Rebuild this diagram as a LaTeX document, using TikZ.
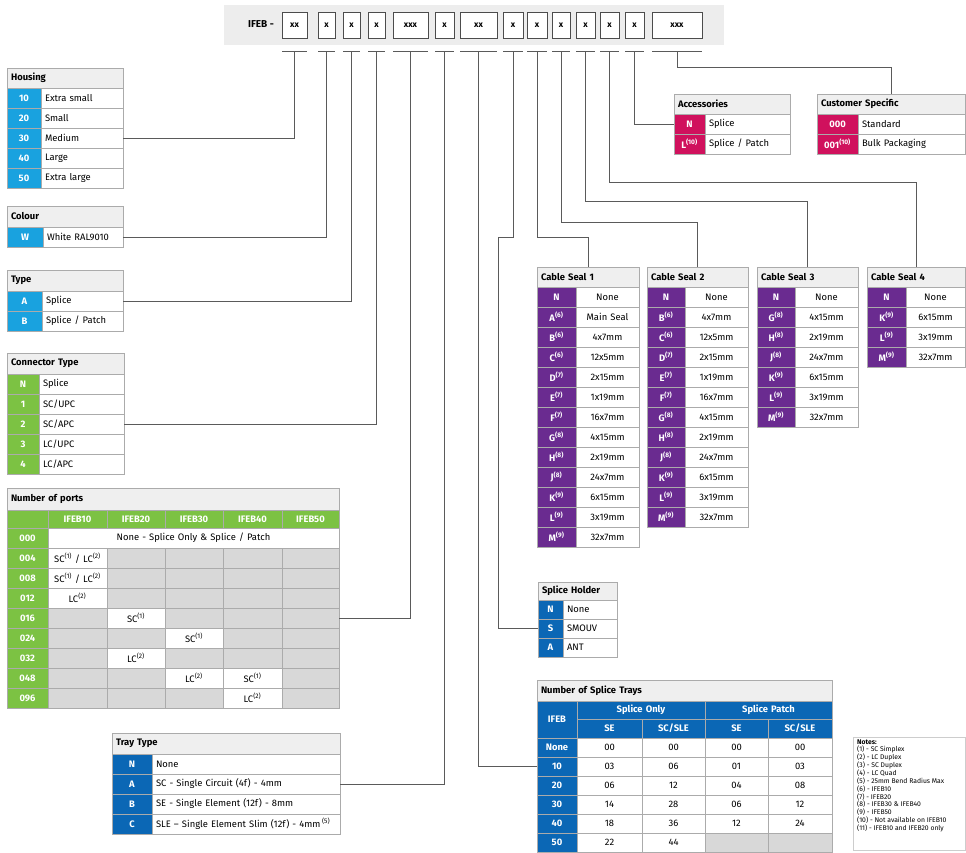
\documentclass[tikz,border=0pt]{standalone}
\usepackage{fontspec}
\setmainfont{Fira Sans}
\usetikzlibrary{calc}
\definecolor{hblue}{HTML}{19A2DF}
\definecolor{dblue}{HTML}{0B67B5}
\definecolor{pgreen}{HTML}{7CC243}
\definecolor{pmag}{HTML}{D0115D}
\definecolor{ppurple}{HTML}{6A2B90}
\definecolor{bord}{HTML}{ABABAB}
\definecolor{hdrgray}{HTML}{EFEFEF}
\definecolor{cellgray}{HTML}{D8D8D8}
\definecolor{bandgray}{HTML}{EDEDED}
\definecolor{conncol}{HTML}{5A5A5A}
\newcommand\fs{\fontsize{9.4}{10.5}\selectfont}
\newcommand\spx[1]{\textsuperscript{(#1)}}
\newcommand\cbox[7]{%
  \pgfmathsetmacro\cbw{#4-#2}%
  \pgfmathsetmacro\cbh{#5-#3}%
  \pgfmathsetmacro\cbt{max(#4-#2-8,1)}%
  \node[#6, minimum width=\cbw pt, minimum height=\cbh pt, text width=\cbt pt, anchor=north west] (#1) at (#2,#3) {\mbox{#7}};}
\tikzset{
  cb/.style={draw=bord, line width=0.6pt, inner xsep=4pt, inner ysep=0pt, outer sep=0pt, font=\fs},
  hdr/.style={cb, fill=hdrgray, font=\fs\bfseries, align=left},
  txl/.style={cb, fill=white, align=left},
  txc/.style={cb, fill=white, align=center},
  cod/.style={cb, fill=#1, text=white, font=\fs\bfseries, align=center},
  gry/.style={cb, fill=cellgray},
  conn/.style={draw=conncol, line width=0.9pt},
  hbox/.style={draw=black!70, fill=white, line width=0.7pt, inner xsep=4pt, inner ysep=0pt, outer sep=0pt, align=center, font=\fontsize{8.5}{9}\selectfont\bfseries},
}
\begin{document}
\begin{tikzpicture}[x=1pt,y=-1pt]
\useasboundingbox[fill=white] (0,0) rectangle (966,852);
% ---------- header band ----------
\fill[bandgray] (224,5) rectangle (724,45);
\node[font=\fontsize{10}{11}\selectfont\bfseries, inner sep=0pt] (ifeb) at (261,24) {IFEB -};
\foreach \xa/\xb/\l [count=\i] in {282/307/xx,318/335/x,343/360/x,368/385/x,393/428/xxx,435/454/x,460/497/xx,503/523/x,527/547/x,552/570/x,576/595/x,600/619/x,625/644/x,652/702/xxx}{
  \cbox{b\i}{\xa}{12}{\xb}{38}{hbox}{\l}
  \draw[conn] (b\i.south west |- 0,51) -- (b\i.south east |- 0,51);
  \coordinate (t\i) at (b\i.south |- 0,51);
}
% ---------- Housing ----------
\cbox{hs-h}{7}{68}{123}{88}{hdr}{Housing}
\foreach \c/\t [count=\i] in {10/Extra small,20/Small,30/Medium,40/Large,50/Extra large}{
  \pgfmathsetmacro\ya{88+20*(\i-1)}\pgfmathsetmacro\yb{\ya+20}
  \cbox{hs-c\i}{7}{\ya}{41}{\yb}{cod=hblue}{\c}
  \cbox{hs-t\i}{41}{\ya}{123}{\yb}{txl}{\t}
}
% ---------- Colour ----------
\cbox{co-h}{7}{206}{123}{227}{hdr}{Colour}
\cbox{co-c1}{7}{227}{43}{247}{cod=hblue}{W}
\cbox{co-t1}{43}{227}{123}{247}{txl}{White RAL9010}
% ---------- Type ----------
\cbox{ty-h}{7}{270}{123}{291}{hdr}{Type}
\foreach \c/\t [count=\i] in {A/Splice,B/{Splice / Patch}}{
  \pgfmathsetmacro\ya{291+20*(\i-1)}\pgfmathsetmacro\yb{\ya+20}
  \cbox{ty-c\i}{7}{\ya}{42}{\yb}{cod=hblue}{\c}
  \cbox{ty-t\i}{42}{\ya}{123}{\yb}{txl}{\t}
}
% ---------- Connector Type ----------
\cbox{ct-h}{7}{353}{124}{374}{hdr}{Connector Type}
\foreach \c/\t [count=\i] in {N/Splice,1/{SC/UPC},2/{SC/APC},3/{LC/UPC},4/{LC/APC}}{
  \pgfmathsetmacro\ya{374+20*(\i-1)}\pgfmathsetmacro\yb{\ya+20}
  \cbox{ct-c\i}{7}{\ya}{39}{\yb}{cod=pgreen}{\c}
  \cbox{ct-t\i}{39}{\ya}{124}{\yb}{txl}{\t}
}
% ---------- Number of ports ----------
\cbox{np-h}{7}{488}{339}{510}{hdr}{Number of ports}
\cbox{np-c0}{7}{510}{48}{528}{cod=pgreen}{}
\foreach \xa/\xb/\l [count=\j] in {48/107/IFEB10,107/165/IFEB20,165/223/IFEB30,223/282/IFEB40,282/339/IFEB50}{
  \cbox{np-c\j}{\xa}{510}{\xb}{528}{cod=pgreen}{\l}
}
\cbox{np-r0}{7}{528}{48}{548}{cod=pgreen}{000}
\cbox{np-all}{48}{528}{339}{548}{txc}{None - Splice Only \& Splice / Patch}
\foreach \r [count=\i] in {004,008,012,016,024,032,048,096}{
  \pgfmathsetmacro\ya{548+20*(\i-1)}\pgfmathsetmacro\yb{\ya+20}
  \cbox{np-r\i}{7}{\ya}{48}{\yb}{cod=pgreen}{\r}
  \foreach \xa/\xb [count=\j] in {48/107,107/165,165/223,223/282,282/339}{
    \cbox{np-\i-\j}{\xa}{\ya}{\xb}{\yb}{gry}{}
  }
}
\cbox{np-w1}{48}{548}{107}{568}{txc}{SC\spx{1} / LC\spx{2}}
\cbox{np-w2}{48}{568}{107}{588}{txc}{SC\spx{1} / LC\spx{2}}
\cbox{np-w3}{48}{588}{107}{608}{txc}{LC\spx{2}}
\cbox{np-w4}{107}{608}{165}{628}{txc}{SC\spx{1}}
\cbox{np-w5}{165}{628}{223}{648}{txc}{SC\spx{1}}
\cbox{np-w6}{107}{648}{165}{668}{txc}{LC\spx{2}}
\cbox{np-w7}{165}{668}{223}{688}{txc}{LC\spx{2}}
\cbox{np-w8}{223}{668}{282}{688}{txc}{SC\spx{1}}
\cbox{np-w9}{223}{688}{282}{708}{txc}{LC\spx{2}}
% ---------- Tray Type ----------
\cbox{tt-h}{112}{733}{340}{754}{hdr}{Tray Type}
\foreach \c/\t [count=\i] in {N/None,A/SC - Single Circuit (4f) - 4mm,B/SE - Single Element (12f) - 8mm,C/{SLE – Single Element Slim (12f) - 4mm\,\spx{5}}}{
  \pgfmathsetmacro\ya{754+20*(\i-1)}\pgfmathsetmacro\yb{\ya+20}
  \cbox{tt-c\i}{112}{\ya}{152}{\yb}{cod=dblue}{\c}
  \cbox{tt-t\i}{152}{\ya}{340}{\yb}{txl}{\t}
}
% ---------- Accessories ----------
\cbox{ac-h}{674}{94}{790}{114}{hdr}{Accessories}
\foreach \c/\t [count=\i] in {N/Splice,{L\spx{10}}/{Splice / Patch}}{
  \pgfmathsetmacro\ya{114+20*(\i-1)}\pgfmathsetmacro\yb{\ya+20}
  \cbox{ac-c\i}{674}{\ya}{705}{\yb}{cod=pmag}{\c}
  \cbox{ac-t\i}{705}{\ya}{790}{\yb}{txl}{\t}
}
% ---------- Customer Specific ----------
\cbox{cu-h}{817}{94}{965}{114}{hdr}{Customer Specific}
\foreach \c/\t [count=\i] in {000/Standard,{001\spx{10}}/Bulk Packaging}{
  \pgfmathsetmacro\ya{114+20*(\i-1)}\pgfmathsetmacro\yb{\ya+20}
  \cbox{cu-c\i}{817}{\ya}{858}{\yb}{cod=pmag}{\c}
  \cbox{cu-t\i}{858}{\ya}{965}{\yb}{txl}{\t}
}
% ---------- Cable Seals ----------
\cbox{cs1-h}{537}{267}{639}{287}{hdr}{Cable Seal 1}
\foreach \c/\v [count=\i] in {N/None,{A\spx{6}}/Main Seal,{B\spx{6}}/4x7mm,{C\spx{6}}/12x5mm,{D\spx{7}}/2x15mm,{E\spx{7}}/1x19mm,{F\spx{7}}/16x7mm,{G\spx{8}}/4x15mm,{H\spx{8}}/2x19mm,{J\spx{8}}/24x7mm,{K\spx{9}}/6x15mm,{L\spx{9}}/3x19mm,{M\spx{9}}/32x7mm}{
  \pgfmathsetmacro\ya{287+20*(\i-1)}\pgfmathsetmacro\yb{\ya+20}
  \cbox{cs1-c\i}{537}{\ya}{576}{\yb}{cod=ppurple}{\c}
  \cbox{cs1-v\i}{576}{\ya}{639}{\yb}{txc}{\v}
}
\cbox{cs2-h}{647}{267}{748}{287}{hdr}{Cable Seal 2}
\foreach \c/\v [count=\i] in {N/None,{B\spx{6}}/4x7mm,{C\spx{6}}/12x5mm,{D\spx{7}}/2x15mm,{E\spx{7}}/1x19mm,{F\spx{7}}/16x7mm,{G\spx{8}}/4x15mm,{H\spx{8}}/2x19mm,{J\spx{8}}/24x7mm,{K\spx{9}}/6x15mm,{L\spx{9}}/3x19mm,{M\spx{9}}/32x7mm}{
  \pgfmathsetmacro\ya{287+20*(\i-1)}\pgfmathsetmacro\yb{\ya+20}
  \cbox{cs2-c\i}{647}{\ya}{685}{\yb}{cod=ppurple}{\c}
  \cbox{cs2-v\i}{685}{\ya}{748}{\yb}{txc}{\v}
}
\cbox{cs3-h}{757}{267}{858}{287}{hdr}{Cable Seal 3}
\foreach \c/\v [count=\i] in {N/None,{G\spx{8}}/4x15mm,{H\spx{8}}/2x19mm,{J\spx{8}}/24x7mm,{K\spx{9}}/6x15mm,{L\spx{9}}/3x19mm,{M\spx{9}}/32x7mm}{
  \pgfmathsetmacro\ya{287+20*(\i-1)}\pgfmathsetmacro\yb{\ya+20}
  \cbox{cs3-c\i}{757}{\ya}{795}{\yb}{cod=ppurple}{\c}
  \cbox{cs3-v\i}{795}{\ya}{858}{\yb}{txc}{\v}
}
\cbox{cs4-h}{867}{267}{965}{287}{hdr}{Cable Seal 4}
\foreach \c/\v [count=\i] in {N/None,{K\spx{9}}/6x15mm,{L\spx{9}}/3x19mm,{M\spx{9}}/32x7mm}{
  \pgfmathsetmacro\ya{287+20*(\i-1)}\pgfmathsetmacro\yb{\ya+20}
  \cbox{cs4-c\i}{867}{\ya}{906}{\yb}{cod=ppurple}{\c}
  \cbox{cs4-v\i}{906}{\ya}{965}{\yb}{txc}{\v}
}
% ---------- Splice Holder ----------
\cbox{sh-h}{538}{582}{617}{600}{hdr}{Splice Holder}
\foreach \c/\t [count=\i] in {N/None,S/SMOUV,A/ANT}{
  \pgfmathsetmacro\ya{600+19*(\i-1)}\pgfmathsetmacro\yb{\ya+19}
  \cbox{sh-c\i}{538}{\ya}{563}{\yb}{cod=dblue}{\c}
  \cbox{sh-t\i}{563}{\ya}{617}{\yb}{txl}{\t}
}
% ---------- Number of Splice Trays ----------
\cbox{st-h}{537}{680}{832}{701}{hdr}{Number of Splice Trays}
\cbox{st-ifeb}{537}{701}{577}{738}{cod=dblue}{IFEB}
\cbox{st-so}{577}{701}{705}{719}{cod=dblue}{Splice Only}
\cbox{st-sp}{705}{701}{832}{719}{cod=dblue}{Splice Patch}
\foreach \xa/\xb/\l [count=\j] in {577/642/SE,642/705/{SC/SLE},705/768/SE,768/832/{SC/SLE}}{
  \cbox{st-s\j}{\xa}{719}{\xb}{738}{cod=dblue}{\l}
}
\foreach \c/\a/\b/\d/\e [count=\i] in {None/00/00/00/00,10/03/06/01/03,20/06/12/04/08,30/14/28/06/12,40/18/36/12/24}{
  \pgfmathsetmacro\ya{738+19*(\i-1)}\pgfmathsetmacro\yb{\ya+19}
  \cbox{st-c\i}{537}{\ya}{577}{\yb}{cod=dblue}{\c}
  \cbox{st-v\i-1}{577}{\ya}{642}{\yb}{txc}{\a}
  \cbox{st-v\i-2}{642}{\ya}{705}{\yb}{txc}{\b}
  \cbox{st-v\i-3}{705}{\ya}{768}{\yb}{txc}{\d}
  \cbox{st-v\i-4}{768}{\ya}{832}{\yb}{txc}{\e}
}
\cbox{st-c6}{537}{833}{577}{852}{cod=dblue}{50}
\cbox{st-v6-1}{577}{833}{642}{852}{txc}{22}
\cbox{st-v6-2}{642}{833}{705}{852}{txc}{44}
\cbox{st-v6-3}{705}{833}{768}{852}{gry}{}
\cbox{st-v6-4}{768}{833}{832}{852}{gry}{}
% ---------- Notes ----------
\node[draw=bord!60, line width=0.4pt, minimum width=112pt, minimum height=113pt, anchor=north west, inner sep=0pt] (notes-box) at (853,737) {};
\node[anchor=north west, align=left, font=\fontsize{6.8}{6.4}\selectfont, inner sep=0pt] (notes) at (857,740) {\textbf{Notes:}\\(1) - SC Simplex\\(2) - LC Duplex\\(3) - SC Duplex\\(4) - LC Quad\\(5) - 25mm Bend Radius Max\\(6) - IFEB10\\(7) - IFEB20\\(8) - IFEB30 \& IFEB40\\(9) - IFEB50\\(10) - Not available on IFEB10\\(11) - IFEB10 and IFEB20 only};
% ---------- Connectors ----------
\coordinate (shj) at (498,237);
\coordinate (j9) at (cs1-h.north |- 0,237);
\coordinate (j10) at (cs2-h.north |- 0,222);
\coordinate (j11) at (cs3-h.north |- 0,201);
\coordinate (j12) at (cs4-h.north |- 0,182);
\coordinate (j14) at (cu-h.north |- 0,67);
\draw[conn] (t1) |- (hs-t3.east);
\draw[conn] (t2) |- (co-t1.east);
\draw[conn] (t3) |- (ty-t1.east);
\draw[conn] (t4) |- (ct-t3.east);
\draw[conn] (t5) |- (np-4-5.east);
\draw[conn] (t6) |- (tt-t2.east);
\draw[conn] (t7) |- (st-c2.west);
\draw[conn] (t8) |- (shj) |- (sh-c2.west);
\draw[conn] (t9) |- (j9) -- (cs1-h.north);
\draw[conn] (t10) |- (j10) -- (cs2-h.north);
\draw[conn] (t11) |- (j11) -- (cs3-h.north);
\draw[conn] (t12) |- (j12) -- (cs4-h.north);
\draw[conn] (t13) |- (ac-c1.west);
\draw[conn] (t14) |- (j14) -- (cu-h.north);
\end{tikzpicture}
\end{document}
